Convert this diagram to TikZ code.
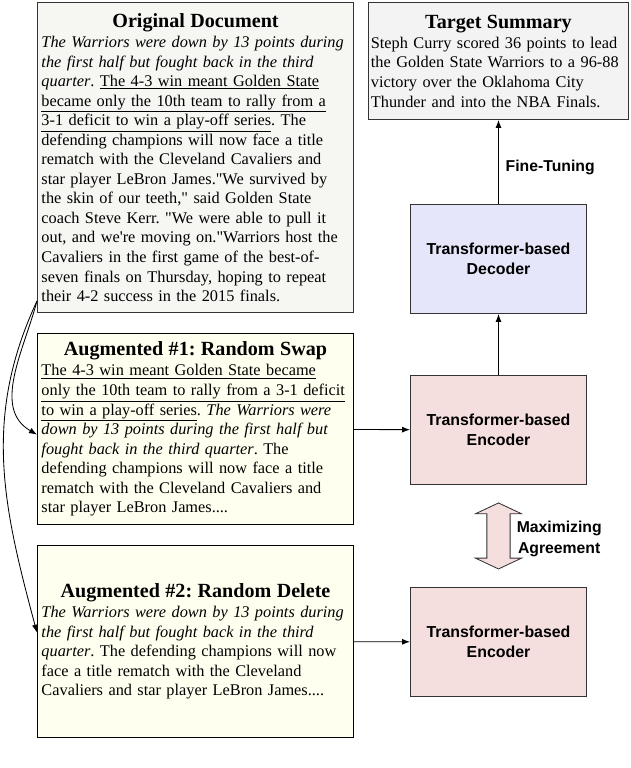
\documentclass[tikz,border=0pt]{standalone}
\usepackage{fontspec}
\setmainfont{Liberation Serif}[Ligatures=TeXOff]
\setsansfont{Liberation Sans}
\usepackage{tikz}
\usetikzlibrary{arrows.meta, positioning, calc, shadows}
\definecolor{docgray}{HTML}{F6F6F3}
\definecolor{sumgray}{HTML}{F3F3F3}
\definecolor{augivory}{HTML}{FFFFF0}
\definecolor{declavender}{HTML}{E6E6FA}
\definecolor{encpink}{HTML}{F4DEDE}
\definecolor{edgegray}{HTML}{333333}
\newcommand{\boxhead}[1]{{\centering\fontsize{14.3}{17}\selectfont\bfseries #1\par}\vspace{0.6pt}}
\frenchspacing

\begin{document}
\begin{tikzpicture}[
    node distance=0.5cm,
    every node/.style={font=\fontsize{11.6}{13.9}\selectfont},
    textbox/.style={draw=edgegray, line width=0.7pt, text width=7.7cm, align=left, inner xsep=0.1cm, inner ysep=0.05cm, drop shadow={shadow xshift=0.6pt, shadow yshift=-0.6pt, fill=black, opacity=0.35}},
    netbox/.style={draw=edgegray, line width=0.7pt, minimum width=4.4cm, minimum height=2.725cm, align=center, font=\sffamily\bfseries\fontsize{11.3}{14.2}\selectfont, drop shadow={shadow xshift=0.6pt, shadow yshift=-0.6pt, fill=black, opacity=0.35}},
    tag/.style={font=\sffamily\bfseries\fontsize{11.2}{14.8}\selectfont, align=center, inner sep=0pt},
    link/.style={-{Latex[length=2mm, width=1.5mm]}, line width=0.6pt}
]
    \useasboundingbox (0,0) rectangle (15.75,-19.2);

    % left column: source text and its two augmented views
    \node[textbox, fill=docgray, minimum height=7.75cm, anchor=north west] (orig) at (0.925,-0.05) {\boxhead{Original Document}
        \textit{The Warriors were down by 13 points during}\\
        \textit{the first half but fought back in the third}\\
        \textit{quarter}. \underline{The 4-3 win meant Golden State}\\
        \underline{became only the 10th team to rally from a}\\
        \underline{3-1 deficit to win a play-off series}. The\\
        defending champions will now face a title\\
        rematch with the Cleveland Cavaliers and\\
        star player LeBron James."We survived by\\
        the skin of our teeth," said Golden State\\
        coach Steve Kerr. "We were able to pull it\\
        out, and we're moving on."Warriors host the\\
        Cavaliers in the first game of the best-of-\\
        seven finals on Thursday, hoping to repeat\\
        their 4-2 success in the 2015 finals.};
    \node[textbox, fill=augivory, draw=black, minimum height=4.775cm, below=0.5cm of orig] (aug1) {\boxhead{Augmented \#1: Random Swap}
        \underline{The 4-3 win meant Golden State became}\\
        \underline{only the 10th team to rally from a 3-1 deficit}\\
        \underline{to win a play-off series}. \textit{The Warriors were}\\
        \textit{down by 13 points during the first half but}\\
        \textit{fought back in the third quarter}. The\\
        defending champions will now face a title\\
        rematch with the Cleveland Cavaliers and\\
        star player LeBron James....};
    \node[textbox, fill=augivory, draw=black, minimum height=4.8cm, below=0.5cm of aug1] (aug2) {\boxhead{Augmented \#2: Random Delete}
        \textit{The Warriors were down by 13 points during}\\
        \textit{the first half but fought back in the third}\\
        \textit{quarter}. The defending champions will now\\
        face a title rematch with the Cleveland\\
        Cavaliers and star player LeBron James....};

    % right column: summary and model
    \node[textbox, fill=sumgray, text width=6.38cm, inner xsep=0.06cm, minimum height=2.925cm, anchor=north west] (target) at (9.2,-0.05) {\boxhead{Target Summary}
        Steph Curry scored 36 points to lead\\
        the Golden State Warriors to a 96-88\\
        victory over the Oklahoma City\\
        Thunder and into the NBA Finals.};
    \node[netbox, fill=declavender, below=2.1cm of target] (dec) {Transformer-based\\Decoder};
    \node[netbox, fill=encpink, below=1.525cm of dec] (enc1) {Transformer-based\\Encoder};
    \node[netbox, fill=encpink, below=2.55cm of enc1] (enc2) {Transformer-based\\Encoder};

    \draw[link] (enc1) -- (dec);
    \draw[link] (dec) -- node[tag, pos=0.43, anchor=west, xshift=0.17cm] (tune) {Fine-Tuning} (target);
    \draw[link] (aug1) -- (enc1);
    \draw[link] (aug2) -- (enc2);

    % augmentation links
    \coordinate (split) at ([yshift=0.3cm]orig.south west);
    \draw[link] (split) to[out=-105, in=150] ([yshift=-0.14cm]aug1.west);
    \draw[link] (split) to[out=-115, in=105] ([yshift=0.22cm]aug2.west);

    % contrastive objective
    \coordinate (agree) at ($(enc1.south)!0.5!(enc2.north)$);
    \draw[fill=encpink, draw=edgegray, line width=0.6pt] (agree) ++(0,0.825) -- ++(0.575,-0.27) -- ++(-0.285,0) -- ++(0,-1.11) -- ++(0.285,0) -- ++(-0.575,-0.27) -- ++(-0.575,0.27) -- ++(0.285,0) -- ++(0,1.11) -- ++(-0.285,0) -- cycle;
    \node[tag, anchor=west] (agreetag) at ([xshift=0.45cm, yshift=-0.08cm]agree) {Maximizing\\Agreement};
\end{tikzpicture}
\end{document}
